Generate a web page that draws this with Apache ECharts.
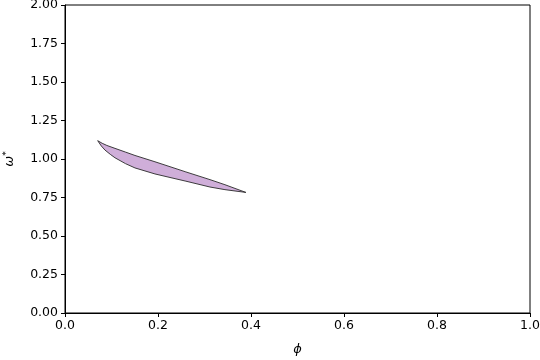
<!DOCTYPE html>
<html>
<head>
<meta charset="utf-8">
<script src="https://cdn.jsdelivr.net/npm/echarts@6/dist/echarts.min.js"></script>
<style>html,body{margin:0;padding:0;background:#fff;}#c{width:540px;height:360px;}</style>
</head>
<body>
<div id="c"></div>
<script>
// Upper boundary of the region (phi, omega*)
const phiUpper   = [0.0703, 0.080, 0.090, 0.1075, 0.130, 0.1505, 0.1935, 0.2258, 0.260, 0.3118, 0.344, 0.389];
const omegaUpper = [1.119, 1.102, 1.088, 1.069, 1.045, 1.023, 0.982, 0.950, 0.916, 0.866, 0.833, 0.783];
// Lower boundary of the region
const phiLower   = [0.0703, 0.078, 0.086, 0.0975, 0.1075, 0.130, 0.1505, 0.1935, 0.2258, 0.260, 0.3118, 0.344, 0.389];
const omegaLower = [1.119, 1.085, 1.058, 1.030, 1.008, 0.970, 0.942, 0.903, 0.880, 0.856, 0.818, 0.801, 0.783];
const xTicks = [0, 0.2, 0.4, 0.6, 0.8, 1.0];
const yTicks = [0, 0.25, 0.5, 0.75, 1.0, 1.25, 1.5, 1.75, 2.0];

const poly = [];
for (let i = 0; i < phiUpper.length; i++) poly.push([phiUpper[i], omegaUpper[i]]);
for (let i = phiLower.length - 1; i >= 0; i--) poly.push([phiLower[i], omegaLower[i]]);

const font = 'DejaVu Sans';
const chart = echarts.init(document.getElementById('c'), null, {renderer: 'canvas'});
chart.setOption({
  animation: false,
  backgroundColor: '#fff',
  grid: {left: 65, right: 10, top: 5, bottom: 47, outerBoundsMode: 'none', containLabel: false,
    show: true, borderColor: '#000', borderWidth: 1, backgroundColor: 'transparent'},
  xAxis: {
    type: 'value', min: 0, max: 1, interval: 0.2,
    name: 'ϕ', nameLocation: 'middle', nameGap: 30,
    nameTextStyle: {fontFamily: font, fontSize: 13, fontStyle: 'italic', color: '#000'},
    axisLine: {show: true, lineStyle: {color: '#000', width: 1}},
    axisTick: {show: true, length: 4, lineStyle: {color: '#000'}},
    axisLabel: {fontFamily: font, fontSize: 12.5, color: '#000', margin: 6,
      formatter: v => v.toFixed(1)},
    splitLine: {show: false}
  },
  yAxis: {
    type: 'value', min: 0, max: 2, interval: 0.25,
    name: 'ω{s|*}', nameLocation: 'middle', nameGap: 48, nameRotate: 90,
    nameTextStyle: {fontFamily: font, fontSize: 13, fontStyle: 'italic', color: '#000',
      rich: {s: {fontFamily: font, fontSize: 9, color: '#000', verticalAlign: 'top', padding: [0,0,6,0]}}},
    axisLine: {show: true, lineStyle: {color: '#000', width: 1}},
    axisTick: {show: true, length: 4, lineStyle: {color: '#000'}},
    axisLabel: {fontFamily: font, fontSize: 12.5, color: '#000', margin: 7,
      formatter: v => v.toFixed(2)},
    splitLine: {show: false}
  },
  series: [{
    type: 'custom',
    data: [[0, 0]],
    clip: true,
    renderItem: function (params, api) {
      const pts = poly.map(p => api.coord(p));
      return {
        type: 'polygon',
        shape: {points: pts},
        style: {fill: '#cfaed9', stroke: '#2a2a2a', lineWidth: 0.9, lineJoin: 'round'}
      };
    }
  }]
});
</script>
</body>
</html>
